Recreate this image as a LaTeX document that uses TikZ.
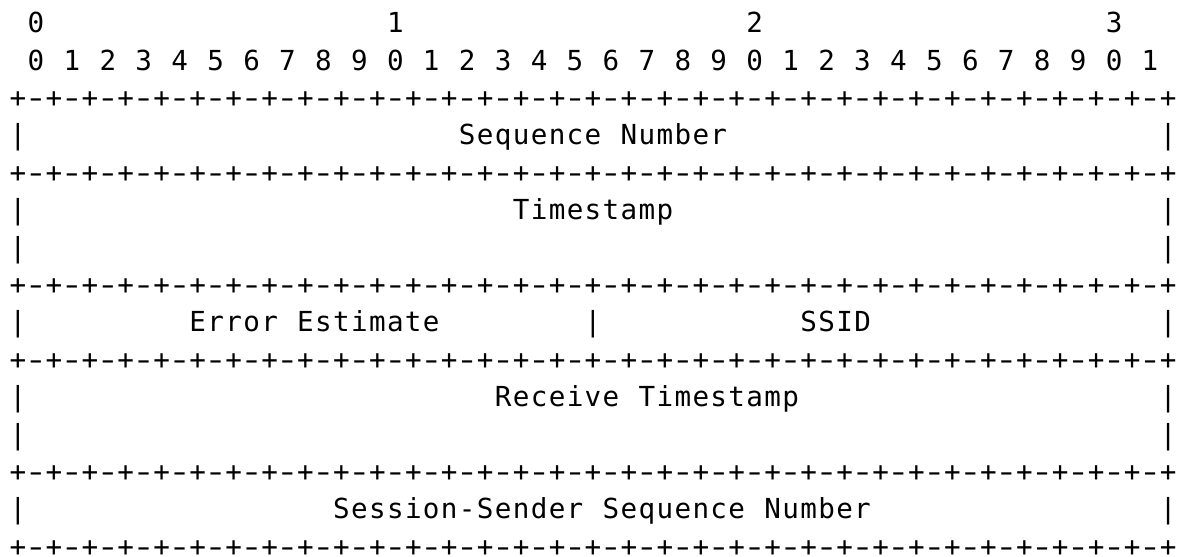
\documentclass[tikz,border=0pt]{standalone}
\usepackage{fontspec}
\setmonofont{DejaVu Sans Mono}
\newlength\cw
\setlength\cw{8.985pt}
\def\monoW#1{\ifx#1\relax\else\makebox[\cw]{#1}\expandafter\monoW\fi}
\def\monoA#1 #2\monoend{\monoW#1\relax\ifx\relax#2\relax\else\makebox[\cw]{}\monoA#2\monoend\fi}
\newcommand\mono[1]{\monoA#1 \monoend}
\newcommand\dashchar{\makebox[\cw]{\scalebox{1.45}[1]{-}}}
\newcommand\borderline{\makebox[\cw]{+}\foreach\k in {1,...,32}{\dashchar\makebox[\cw]{+}}}
\tikzset{
  txt/.style={anchor=base west, inner sep=0pt, outer sep=0pt, text=black,
    font=\ttfamily\fontsize{13.8pt}{15pt}\selectfont},
}
\begin{document}
\begin{tikzpicture}[x=8.985pt, y=-18.7pt]
\useasboundingbox[fill=white] (-0.5008,-0.8717) rectangle (65.33,13.995);
% bit numbering
\node[txt] (h0) at (1,0) {\mono{0}};
\node[txt] (h1) at (21,0) {\mono{1}};
\node[txt] (h2) at (41,0) {\mono{2}};
\node[txt] (h3) at (61,0) {\mono{3}};
\node[txt] (bits) at (1,1) {\mono{0 1 2 3 4 5 6 7 8 9 0 1 2 3 4 5 6 7 8 9 0 1 2 3 4 5 6 7 8 9 0 1}};
% borders
\foreach \r [count=\i] in {2,4,7,9,12,14}
  \node[txt] (border\i) at (0,\r) {\borderline};
% side bars
\foreach \r in {3,5,6,8,10,11,13}{
  \node[txt] (l\r) at (0,\r) {\mono{|}};
  \node[txt] (r\r) at (64,\r) {\mono{|}};
}
\node[txt] (m8) at (32,8) {\mono{|}};
% field labels
\node[txt] (seq) at (25,3) {\mono{Sequence Number}};
\node[txt] (ts) at (28,5) {\mono{Timestamp}};
\node[txt] (err) at (10,8) {\mono{Error Estimate}};
\node[txt] (ssid) at (44,8) {\mono{SSID}};
\node[txt] (rts) at (27,10) {\mono{Receive Timestamp}};
\node[txt] (sss) at (18,13) {\mono{Session-Sender Sequence Number}};
\end{tikzpicture}
\end{document}
